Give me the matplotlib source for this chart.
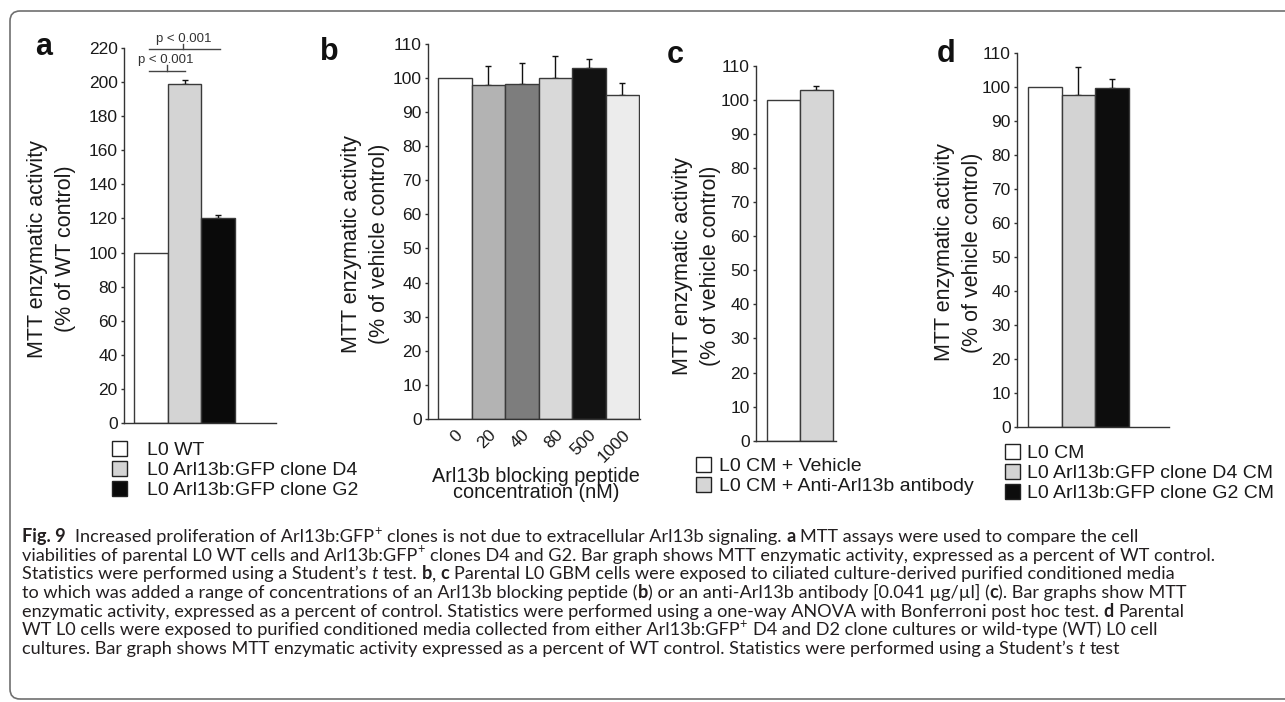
import re
import numpy as np
import matplotlib
matplotlib.use("Agg")
import matplotlib.pyplot as plt
from matplotlib import font_manager
from matplotlib.patches import Patch, FancyBboxPatch
from matplotlib.transforms import IdentityTransform

# ── data ────────────────────────────────────────────────────────
A_LABELS = ["L0 WT", "L0 Arl13b:GFP clone D4", "L0 Arl13b:GFP clone G2"]
A_VALUES = [100, 199, 120]
A_ERR    = [0, 2.5, 2.0]
A_COLORS = ["#ffffff", "#d4d4d4", "#0a0a0a"]

B_CONC   = ["0", "20", "40", "80", "500", "1000"]
B_VALUES = [100, 97.9, 98.2, 100, 102.9, 94.9]
B_ERR    = [0, 5.7, 6.2, 6.3, 2.7, 3.5]
B_COLORS = ["#ffffff", "#b3b3b3", "#7d7d7d", "#d9d9d9", "#121212", "#ececec"]

C_LABELS = ["L0 CM + Vehicle", "L0 CM + Anti-Arl13b antibody"]
C_VALUES = [100, 102.9]
C_ERR    = [0, 1.1]
C_COLORS = ["#ffffff", "#d6d6d6"]

D_LABELS = ["L0 CM", "L0 Arl13b:GFP clone D4 CM", "L0 Arl13b:GFP clone G2 CM"]
D_VALUES = [100, 97.6, 99.6]
D_ERR    = [0, 8.1, 2.8]
D_COLORS = ["#ffffff", "#d3d3d3", "#0d0d0d"]

# caption markup: **bold**, //italic//, ^+ superscript plus
CAPTION = [
    "**Fig. 9**  Increased proliferation of Arl13b:GFP^+ clones is not due to extracellular Arl13b signaling. **a** MTT assays were used to compare the cell",
    "viabilities of parental L0 WT cells and Arl13b:GFP^+ clones D4 and G2. Bar graph shows MTT enzymatic activity, expressed as a percent of WT control.",
    "Statistics were performed using a Student’s //t// test. **b**, **c** Parental L0 GBM cells were exposed to ciliated culture-derived purified conditioned media",
    "to which was added a range of concentrations of an Arl13b blocking peptide (**b**) or an anti-Arl13b antibody [0.041 µg/µl] (**c**). Bar graphs show MTT",
    "enzymatic activity, expressed as a percent of control. Statistics were performed using a one-way ANOVA with Bonferroni post hoc test. **d** Parental",
    "WT L0 cells were exposed to purified conditioned media collected from either Arl13b:GFP^+ D4 and D2 clone cultures or wild-type (WT) L0 cell",
    "cultures. Bar graph shows MTT enzymatic activity expressed as a percent of WT control. Statistics were performed using a Student’s //t// test",
]

# ── fonts ───────────────────────────────────────────────────────
def has_font(name):
    try:
        font_manager.findfont(font_manager.FontProperties(family=name), fallback_to_default=False)
        return True
    except Exception:
        return False

SANS = "Liberation Sans" if has_font("Liberation Sans") else "DejaVu Sans"
CAP_FONT = next(f for f in ["Liberation Sans Narrow", "Lato", "Open Sans", "DejaVu Sans"] if has_font(f))
plt.rcParams["font.family"] = [SANS, "DejaVu Sans"]

TXT = "#1a1a1a"; EDGE = "#3a3a3a"; CAP_COL = "#231f20"
W, H = 1285, 702
fig = plt.figure(figsize=(W / 100, H / 100), dpi=100, facecolor="white")
R = fig.canvas.get_renderer()

def px_axes(x0, y_top, x1, y_bot):
    return fig.add_axes([x0 / W, 1 - y_bot / H, (x1 - x0) / W, (y_bot - y_top) / H])

def style(ax, ymax, step):
    for s in ["top", "right"]:
        ax.spines[s].set_visible(False)
    for s in ["left", "bottom"]:
        ax.spines[s].set_color("#333333"); ax.spines[s].set_linewidth(1.0)
    ax.set_ylim(0, ymax)
    ax.set_yticks(np.arange(0, ymax + 1, step))
    ax.tick_params(axis="y", length=2.5, width=1, pad=2, labelsize=12.5, colors="#333333", labelcolor=TXT)
    ax.tick_params(axis="x", length=0)
    ax.patch.set_alpha(0)

def bars(ax, vals, errs, colors):
    x = np.arange(len(vals))
    ax.bar(x, vals, width=1.0, color=colors, edgecolor=EDGE, linewidth=1.0, zorder=2)
    errs = np.array(errs); m = errs > 0
    ax.errorbar(x[m], np.array(vals)[m], yerr=[np.zeros(m.sum()), errs[m]], fmt="none",
                ecolor="#111111", elinewidth=1, capsize=2.5, capthick=1, zorder=1)
    return x

def two_line_ylabel(xc, yc, second):
    fig.text(xc / W, 1 - yc / H, "MTT enzymatic activity\n" + second, rotation=90,
             ha="center", va="center", fontsize=15.5, color=TXT, linespacing=1.4, multialignment="center")

def panel_letter(x, y, s):
    fig.text(x / W, 1 - y / H, s, fontsize=22, fontweight="bold", color="#111111", va="baseline", ha="left")

def legend(labels, colors, x, y, textpad):
    hs = [Patch(facecolor=c, edgecolor="#222222", linewidth=1.0) for c in colors]
    fig.legend(hs, labels, loc="upper left", bbox_to_anchor=(x / W, 1 - y / H),
               frameon=False, fontsize=14, handlelength=0.78, handleheight=0.78,
               handletextpad=textpad, labelspacing=0.1, borderpad=0, borderaxespad=0,
               labelcolor=TXT)

# ── panel a ─────────────────────────────────────────────────────
ax = px_axes(124, 48, 276, 423)
style(ax, 220, 20)
bars(ax, A_VALUES, A_ERR, A_COLORS)
ax.set_xlim(-0.813, 3.724)
ax.set_xticks([])
# significance brackets: (line x0, x1, line y, tick x, text y, text x)
for (x0, x1, yl, xt, ytxt, xtxt) in [(-0.08, 1.0, 206.6, 0.46, 211.3, 0.43),
                                      (-0.08, 2.05, 219.2, 0.95, 223.5, 0.96)]:
    ax.plot([x0, x1], [yl, yl], color="#444444", lw=1, clip_on=False)
    ax.plot([xt, xt], [yl, yl + 3.2], color="#444444", lw=1, clip_on=False)
    ax.text(xtxt, ytxt, "p < 0.001", ha="center", va="baseline", fontsize=9.5, color="#333333", clip_on=False)
two_line_ylabel(51.5, 249, "(% of WT control)")
panel_letter(35, 55, "a")
legend(A_LABELS, A_COLORS, 112, 441, 1.0)

# ── panel b ─────────────────────────────────────────────────────
ax = px_axes(428, 43.7, 640, 419)
style(ax, 110, 10)
xb = bars(ax, B_VALUES, B_ERR, B_COLORS)
ax.set_xlim(-0.8, 5.53)
ax.set_xticks(xb)
ax.set_xticklabels(B_CONC, rotation=45, ha="right", va="top", rotation_mode="anchor",
                   fontsize=12.5, color=TXT)
ax.tick_params(axis="x", pad=6)
fig.text(536 / W, 1 - 498 / H, "Arl13b blocking peptide\nconcentration (nM)", ha="center", va="baseline",
         fontsize=14.3, color=TXT, linespacing=0.78, multialignment="center")
two_line_ylabel(365.5, 244, "(% of vehicle control)")
panel_letter(320, 60, "b")

# ── panel c ─────────────────────────────────────────────────────
ax = px_axes(756, 65.7, 836, 440.7)
style(ax, 110, 10)
bars(ax, C_VALUES, C_ERR, C_COLORS)
ax.set_xlim(-0.82, 1.59)
ax.set_xticks([])
two_line_ylabel(696.5, 266, "(% of vehicle control)")
panel_letter(667, 63, "c")
legend(C_LABELS, C_COLORS, 696, 457, 0.4)

# ── panel d ─────────────────────────────────────────────────────
ax = px_axes(1017, 52.7, 1169, 426.7)
style(ax, 110, 10)
bars(ax, D_VALUES, D_ERR, D_COLORS)
ax.set_xlim(-0.826, 3.69)
ax.set_xticks([])
two_line_ylabel(958.5, 252.5, "(% of vehicle control)")
panel_letter(937, 62, "d")
legend(D_LABELS, D_COLORS, 1005, 444, 0.35)

# ── caption box + text ─────────────────────────────────────────
box = FancyBboxPatch((10, H - 699), 1300, 699 - 11, boxstyle="round,pad=0,rounding_size=10",
                     transform=IdentityTransform(), facecolor="none", edgecolor="#707070", linewidth=1.2)
fig.add_artist(box)

def text_w(s, fs, **kw):
    t = fig.text(0, 0, s, fontsize=fs, family=CAP_FONT, **kw)
    w = t.get_window_extent(R).width
    t.remove()
    return w

def parse(line):
    parts = []
    for tok in re.split(r"(\*\*[^*]+\*\*|//[^/]+//|\^\+)", line):
        if not tok:
            continue
        if tok.startswith("**"):
            parts.append((tok[2:-2], "b"))
        elif tok.startswith("//"):
            parts.append((tok[2:-2], "i"))
        elif tok == "^+":
            parts.append(("+", "sup"))
        else:
            parts.append((tok, "r"))
    return parts

def layout_line(line, x0, y, fs):
    sp = text_w("n n", fs) - text_w("nn", fs)
    x = x0; made = []
    for s, kind in parse(line):
        lead = len(s) - len(s.lstrip(" ")); trail = len(s) - len(s.rstrip(" "))
        core = s.strip(" ")
        x += lead * sp
        if core:
            kw = dict(fontsize=fs, family=CAP_FONT, color=CAP_COL, va="baseline", ha="left")
            yy = y
            if kind == "b":
                kw["fontweight"] = "bold"
            elif kind == "i":
                kw["fontstyle"] = "italic"
            elif kind == "sup":
                kw["fontsize"] = fs * 0.7
                yy = y - 0.4 * fs * 100 / 72
            t = fig.text(x / W, 1 - yy / H, core, **kw)
            made.append(t)
            x += t.get_window_extent(R).width + (1 if kind == "sup" else 0)
        x += trail * sp
    return x, made

# fit caption font size to the widest line (line 2 spans 22 → 1217 px)
x_end, tmp = layout_line(CAPTION[1], 22, 0, 13)
for t in tmp:
    t.remove()
cap_fs = 13 * 1195 / (x_end - 22)
for i, line in enumerate(CAPTION):
    layout_line(line, 22, 542 + i * 18.7, cap_fs)

fig.savefig("out.png", dpi=100, facecolor="white")
